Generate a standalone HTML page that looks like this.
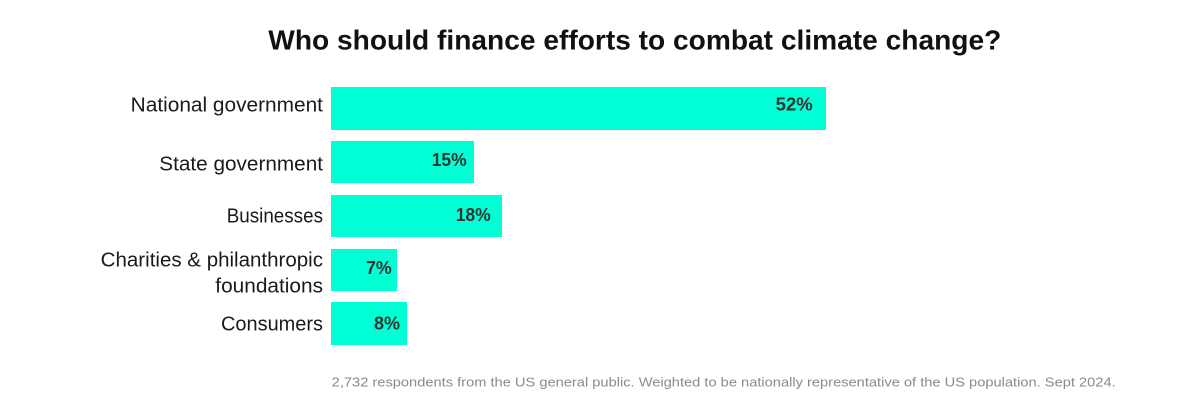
<!DOCTYPE html>
<html>
<head>
<meta charset="utf-8">
<style>
  html,body{margin:0;padding:0;background:#fff;}
  svg{display:block;}
</style>
</head>
<body>
<svg width="1200" height="400" viewBox="0 0 1200 400" xmlns="http://www.w3.org/2000/svg">
  <rect width="1200" height="400" fill="#ffffff"/>
  <text x="268.3" y="49.3" font-family="Liberation Sans, sans-serif" font-weight="bold" font-size="28" fill="#111111" textLength="733" lengthAdjust="spacingAndGlyphs">Who should finance efforts to combat climate change?</text>

  <!-- bars -->
  <rect x="331" y="87" width="495" height="43" fill="#00FFD5"/>
  <rect x="331" y="141" width="143" height="42" fill="#00FFD5"/>
  <rect x="331" y="195" width="171" height="42" fill="#00FFD5"/>
  <rect x="331" y="249" width="66" height="42" fill="#00FFD5"/>
  <rect x="331" y="302" width="76" height="43" fill="#00FFD5"/>

  <!-- category labels -->
  <g font-family="Liberation Sans, sans-serif" font-size="20" fill="#1a1a1a">
    <text x="130.7" y="111.7" textLength="192.3" lengthAdjust="spacingAndGlyphs">National government</text>
    <text x="159.3" y="170.7" textLength="163.7" lengthAdjust="spacingAndGlyphs">State government</text>
    <text x="226.7" y="222.3" textLength="96.3" lengthAdjust="spacingAndGlyphs">Businesses</text>
    <text x="100.7" y="266.7" textLength="222.3" lengthAdjust="spacingAndGlyphs">Charities &amp; philanthropic</text>
    <text x="215.3" y="292.3" textLength="107.7" lengthAdjust="spacingAndGlyphs">foundations</text>
    <text x="221" y="330.7" textLength="102" lengthAdjust="spacingAndGlyphs">Consumers</text>
  </g>

  <!-- value labels -->
  <g font-family="Liberation Sans, sans-serif" font-weight="bold" font-size="18" fill="#2d3433">
    <text x="775.7" y="110.7" textLength="37" lengthAdjust="spacingAndGlyphs">52%</text>
    <text x="431.7" y="166" textLength="35" lengthAdjust="spacingAndGlyphs">15%</text>
    <text x="455.7" y="221" textLength="35" lengthAdjust="spacingAndGlyphs">18%</text>
    <text x="366" y="274" textLength="25.7" lengthAdjust="spacingAndGlyphs">7%</text>
    <text x="374" y="329.3" textLength="26" lengthAdjust="spacingAndGlyphs">8%</text>
  </g>

  <text x="331.7" y="386.7" font-family="Liberation Sans, sans-serif" font-size="13" fill="#8a8a8a" textLength="784" lengthAdjust="spacingAndGlyphs">2,732 respondents from the US general public. Weighted to  be nationally representative of the US population. Sept 2024.</text>
</svg>
</body>
</html>
